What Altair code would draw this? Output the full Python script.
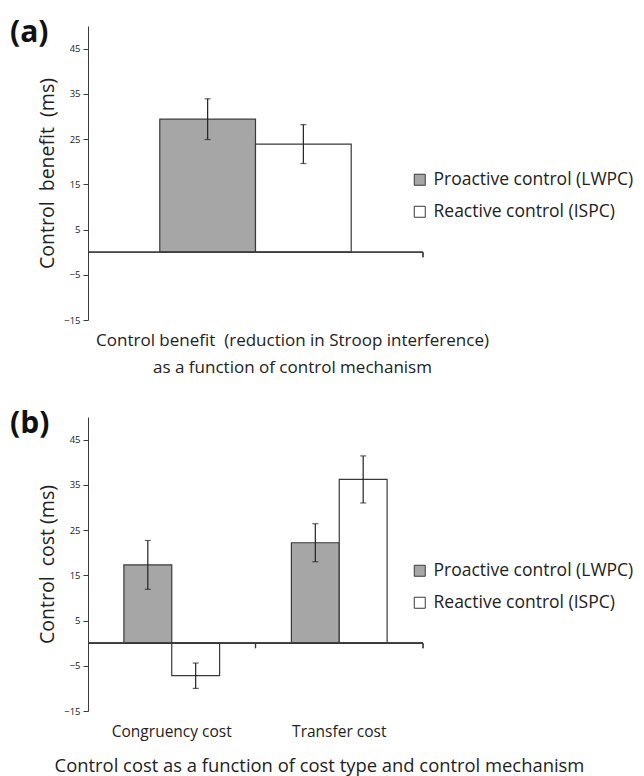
import altair as alt
import pandas as pd

FONT = "Open Sans"
AX = "#3a3a3a"

series = ["Proactive control (LWPC)", "Reactive control (ISPC)"]
colors = ["#a6a6a6", "#ffffff"]

a_category = ["Control benefit", "Control benefit"]
a_series = [series[0], series[1]]
a_value = [29.4, 23.9]
a_err = [4.5, 4.3]

b_category = ["Congruency cost", "Congruency cost", "Transfer cost", "Transfer cost"]
b_series = [series[0], series[1], series[0], series[1]]
b_value = [17.3, -7.2, 22.2, 36.2]
b_err = [5.4, 2.8, 4.2, 5.2]

y_ticks = [-15, -5, 5, 15, 25, 35, 45]
y_domain = [-15, 50]

W, H = 335, 294


def panel(cats, sers, vals, errs, letter, ytitle, xtitle, title_x, show_labels, xtitle_size):
    df = pd.DataFrame({"category": cats, "series": sers, "value": vals, "err": errs})
    df["lo"] = df["value"] - df["err"]
    df["hi"] = df["value"] + df["err"]
    base = alt.Chart(df)
    xscale = alt.Scale(paddingInner=0, paddingOuter=0)
    x = alt.X(
        "category:N", sort=None, scale=xscale, title=xtitle,
        axis=alt.Axis(
            labels=show_labels, ticks=False, domain=False, labelAngle=0,
            labelFont=FONT, labelFontSize=15.5, labelColor="#222", labelPadding=13,
            titleFont=FONT, titleFontSize=xtitle_size, titleFontWeight="normal", titleColor="#222",
            titleX=title_x, titlePadding=17 if show_labels else 12, titleLineHeight=27,
        ),
    )
    xoff = alt.XOffset("series:N", scale=alt.Scale(domain=series, paddingOuter=0.75, paddingInner=0))
    yscale = alt.Scale(domain=y_domain, nice=False, zero=False)
    y = alt.Y(
        "value:Q", scale=yscale, title=ytitle,
        axis=alt.Axis(
            values=y_ticks, grid=False, tickSize=5, tickColor=AX, domainColor=AX,
            labelFont=FONT, labelFontSize=9.5, labelColor="#222", labelPadding=3,
            titleFont=FONT, titleFontSize=19.5, titleFontWeight="normal", titleColor="#222",
            titlePadding=6,
        ),
    )
    color = alt.Color(
        "series:N", scale=alt.Scale(domain=series, range=colors),
        legend=alt.Legend(
            orient="none", legendX=323, legendY=145, title=None,
            symbolType="square", symbolSize=121, symbolStrokeColor=AX, symbolStrokeWidth=1,
            labelFont=FONT, labelFontSize=17.5, labelColor="#222", rowPadding=13, labelOffset=5,
            labelLimit=400,
        ),
    )
    bars = base.mark_bar(stroke=AX, strokeWidth=1.2).encode(
        x=x, xOffset=xoff, y=y, y2=alt.datum(0), color=color
    )
    err = base.mark_rule(color="#222", strokeWidth=1.2).encode(
        x="category:N", xOffset=xoff, y="lo:Q", y2="hi:Q"
    )
    cap_lo = base.mark_tick(color="#222", size=6, thickness=1.2).encode(
        x="category:N", xOffset=xoff, y="lo:Q"
    )
    cap_hi = base.mark_tick(color="#222", size=6, thickness=1.2).encode(
        x="category:N", xOffset=xoff, y="hi:Q"
    )
    zero = base.mark_rule(color=AX, strokeWidth=1.2).encode(
        x=alt.value(0), x2=alt.value(W), y=alt.datum(0)
    )
    xt = base.mark_rule(color=AX, strokeWidth=1.2, y2Offset=5).encode(
        x=alt.X("category:N", bandPosition=1), y=alt.datum(0), y2=alt.datum(0)
    )
    return alt.layer(bars, zero, xt, err, cap_lo, cap_hi).properties(
        width=W, height=H,
        title=alt.TitleParams(
            letter, anchor="start", frame="group", orient="top", fontSize=30,
            fontWeight="bold", font=FONT, color="#111", dx=-78, offset=-22,
        ),
    )


pa = panel(
    a_category, a_series, a_value, a_err, "(a)",
    "Control\u00a0 benefit\u00a0 (ms)",
    ["Control benefit\u00a0 (reduction in Stroop interference)", "as a function of control mechanism"],
    204, False, 17,
)
pb = panel(
    b_category, b_series, b_value, b_err, "(b)",
    "Control\u00a0 cost (ms)",
    "Control cost as a function of cost type and control mechanism",
    231, True, 18.4,
)

chart = alt.vconcat(pa, pb, spacing=34).resolve_scale(
    x="independent", xOffset="independent", y="independent", color="independent"
).properties(
    padding={"left": 2, "top": 10, "right": 2, "bottom": 2}
).configure_view(stroke=None).configure_axis(grid=False)

chart.save("out.html", embed_options={"renderer": "svg", "actions": False})
